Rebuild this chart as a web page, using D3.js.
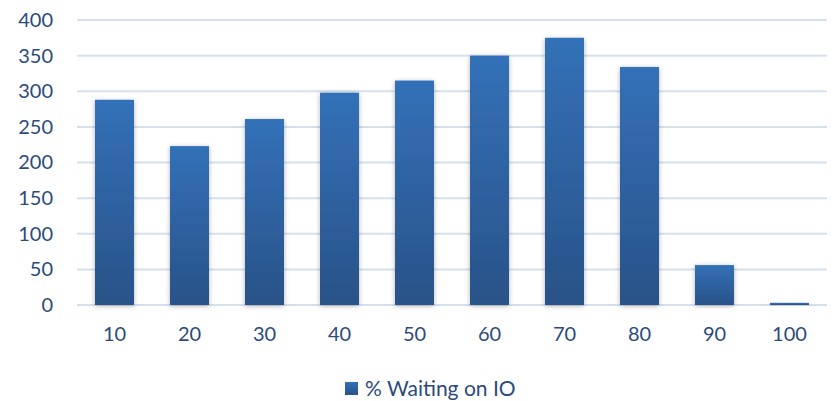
<!DOCTYPE html>
<html>
<head>
<meta charset="utf-8">
<script src="https://cdn.jsdelivr.net/npm/d3@7"></script>
<style>
  body { margin: 0; background: #fff; }
  text { font-family: Lato, "Open Sans", sans-serif; fill: #2b4b7c; }
</style>
</head>
<body>
<svg class="chart"></svg>
<script>
var categories = ["10", "20", "30", "40", "50", "60", "70", "80", "90", "100"];
var waitingIO = [288, 223, 261, 298, 315, 350, 375, 334, 56, 3];
var yTicks = [0, 50, 100, 150, 200, 250, 300, 350, 400];
var seriesName = "% Waiting on IO";

var margin = {top: 20, right: 7, bottom: 96, left: 77},
    width = 834 - margin.left - margin.right,
    height = 401 - margin.top - margin.bottom;

var svg = d3.select(".chart")
    .attr("width", 834)
    .attr("height", 401);

var defs = svg.append("defs");
var grad = defs.append("linearGradient")
    .attr("id", "barGrad")
    .attr("x1", 0).attr("y1", 0).attr("x2", 0).attr("y2", 1);
grad.append("stop").attr("offset", "0%").attr("stop-color", "#3271b8");
grad.append("stop").attr("offset", "100%").attr("stop-color", "#2a5288");

var shadow = defs.append("filter").attr("id", "shadow")
    .attr("x", "-30%").attr("y", "-10%").attr("width", "160%").attr("height", "120%");
shadow.append("feDropShadow")
    .attr("dx", 0).attr("dy", 1).attr("stdDeviation", 2.5)
    .attr("flood-color", "#000").attr("flood-opacity", 0.3);

var g = svg.append("g")
    .attr("transform", "translate(" + margin.left + "," + margin.top + ")");

var x = d3.scaleBand()
    .domain(categories)
    .range([0, width])
    .paddingInner(0.48)
    .paddingOuter(0.24);

var y = d3.scaleLinear()
    .domain([0, 400])
    .range([height, 0]);

// gridlines
g.append("g")
  .selectAll("line")
  .data(yTicks)
  .enter().append("line")
    .attr("x1", 0)
    .attr("x2", width)
    .attr("y1", function(d) { return y(d); })
    .attr("y2", function(d) { return y(d); })
    .attr("stroke", "#d5e0ef")
    .attr("stroke-width", 2);

// bars
g.append("g")
  .selectAll("rect")
  .data(waitingIO)
  .enter().append("rect")
    .attr("x", function(d, i) { return x(categories[i]); })
    .attr("y", function(d) { return y(d); })
    .attr("width", x.bandwidth())
    .attr("height", function(d) { return height - y(d); })
    .attr("fill", "url(#barGrad)")
    .attr("filter", "url(#shadow)");

// y axis labels
var yAxis = d3.axisLeft(y).tickValues(yTicks).tickSize(0).tickPadding(24);
g.append("g")
    .call(yAxis)
    .call(function(s) { s.select(".domain").remove(); })
    .selectAll("text")
    .style("font-size", "20px")
    .attr("fill", "#2b4b7c");

// x axis labels
var xAxis = d3.axisBottom(x).tickSize(0).tickPadding(22);
g.append("g")
    .attr("transform", "translate(0," + height + ")")
    .call(xAxis)
    .call(function(s) { s.select(".domain").remove(); })
    .selectAll("text")
    .style("font-size", "20px")
    .attr("fill", "#2b4b7c");

// legend
var legend = svg.append("g").attr("transform", "translate(345,382)");
legend.append("rect")
    .attr("width", 13).attr("height", 13)
    .attr("fill", "url(#barGrad)");
legend.append("text")
    .attr("x", 20)
    .attr("y", 14)
    .style("font-size", "21px")
    .text(seriesName);
</script>
</body>
</html>
